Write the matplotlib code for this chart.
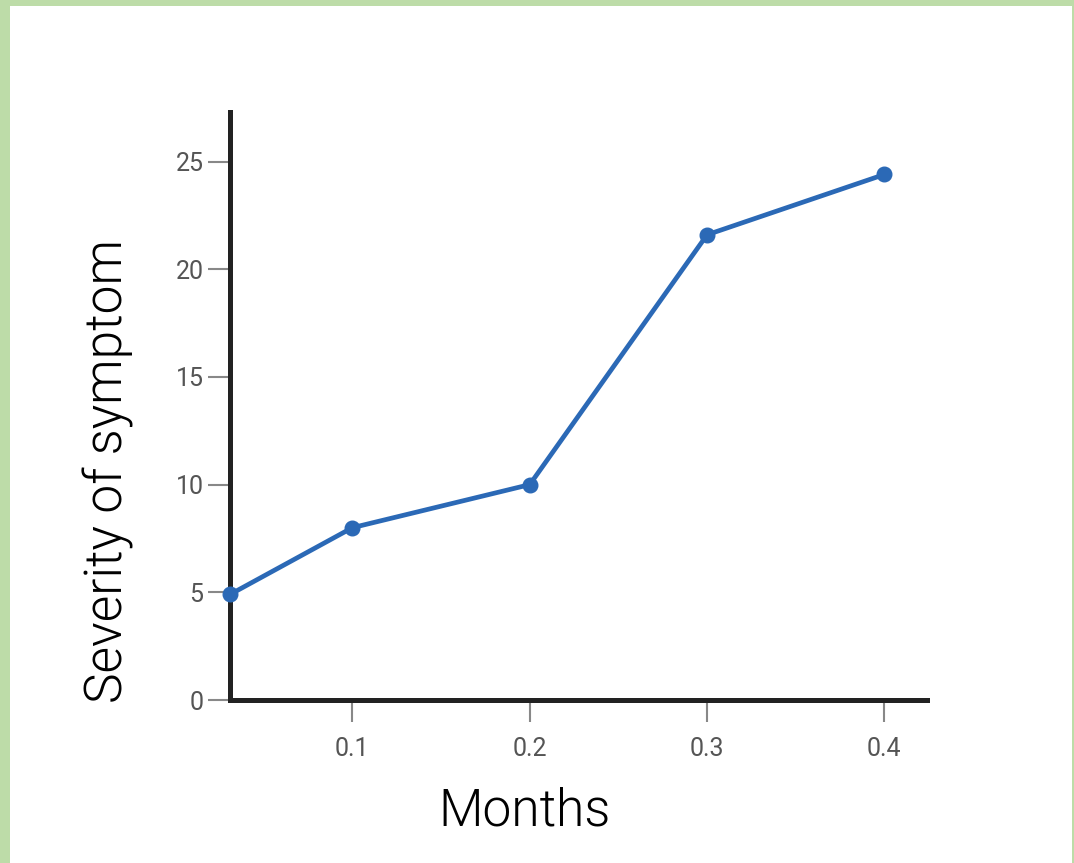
import matplotlib
matplotlib.use("Agg")
import matplotlib.pyplot as plt
from matplotlib.patches import Rectangle

# values
months = [0.031, 0.1, 0.2, 0.3, 0.4]
severity = [4.9, 8.0, 10.0, 21.6, 24.4]
x_ticks = [0.1, 0.2, 0.3, 0.4]
x_tick_labels = ["0.1", "0.2", "0.3", "0.4"]
y_ticks = [0, 5, 10, 15, 20, 25]

line_color = "#2b69b6"
border_color = "#bddca8"
label_font = ["Roboto", "DejaVu Sans"]

fig = plt.figure(figsize=(10.74, 8.63), dpi=100)

# light green frame: top, left and a thin strip on the right
for x0, y0, w, h in [(0, 1 - 6 / 863, 1, 6 / 863),
                     (0, 0, 10 / 1074, 1),
                     (1 - 2 / 1074, 0, 2 / 1074, 1)]:
    fig.patches.append(Rectangle((x0, y0), w, h, transform=fig.transFigure,
                                 facecolor=border_color, edgecolor="none"))

ax = fig.add_axes([230 / 1074, 1 - 700 / 863, 697 / 1074, 588 / 863])
ax.plot(months, severity, color=line_color, lw=3.4, marker="o", ms=10.5,
        clip_on=False, zorder=3)

ax.set_xlim(0.031, 0.424)
ax.set_ylim(0, 27.3)
ax.set_xticks(x_ticks, x_tick_labels)
ax.set_yticks(y_ticks)

for side in ("top", "right"):
    ax.spines[side].set_visible(False)
for side in ("left", "bottom"):
    ax.spines[side].set_linewidth(3.6)
    ax.spines[side].set_color("#222222")
    ax.spines[side].set_capstyle("projecting")

ax.tick_params(axis="both", length=16, width=1.5, color="#888888",
               labelcolor="#555555", labelsize=18)
ax.tick_params(axis="x", pad=11)
ax.tick_params(axis="y", pad=3)
for lbl in ax.get_xticklabels() + ax.get_yticklabels():
    lbl.set_family(["Roboto", "DejaVu Sans"])

ax.set_xlabel("Months", family=label_font, fontweight=300, fontsize=37,
              color="#000000")
ax.set_ylabel("Severity of symptom", family=label_font, fontweight=300,
              fontsize=37, color="#000000")
ax.xaxis.set_label_coords(0.423, -0.19)
ax.yaxis.set_label_coords(-0.175, 0.389)
ax.xaxis.label.set_verticalalignment("center")
ax.yaxis.label.set_verticalalignment("center")

fig.savefig("out.png", dpi=100, facecolor="white")
